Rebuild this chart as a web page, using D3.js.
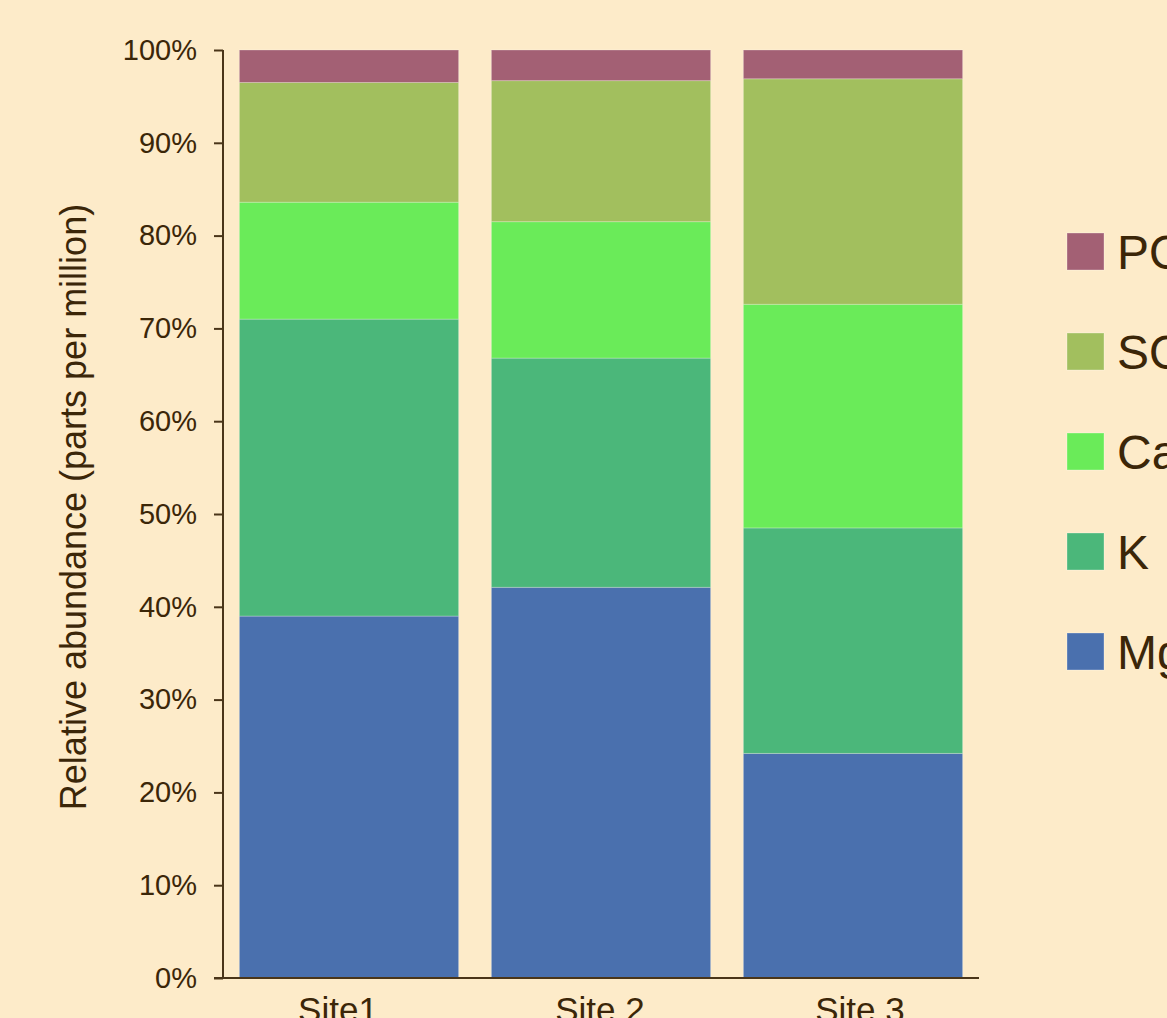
<!DOCTYPE html>
<html>
<head>
<meta charset="utf-8">
<script src="https://cdn.jsdelivr.net/npm/d3@7/dist/d3.min.js"></script>
<style>
  html, body { margin: 0; padding: 0; background: #fdebc9; overflow: hidden; }
  svg { display: block; }
  text { font-family: "Liberation Sans", Arial, sans-serif; fill: #3b2608; }
</style>
</head>
<body>
<svg id="chart" width="1167" height="1018"></svg>
<script>
// ---- data ----
const sites = ["Site1", "Site 2", "Site 3"];
const seriesKeys = ["Mg", "K", "Ca", "SO4", "PO4"];
const seriesLabels = ["Mg", "K", "Ca", "SO4", "PO4"];
const seriesColors = ["#4a70ae", "#4bb77a", "#6aeb59", "#a2bf5e", "#a36074"];
const mgValues  = [39.0, 42.1, 24.2];
const kValues   = [32.0, 24.7, 24.3];
const caValues  = [12.6, 14.7, 24.1];
const so4Values = [12.9, 15.2, 24.3];
const po4Values = [3.5, 3.3, 3.1];
const yTicks = [0, 10, 20, 30, 40, 50, 60, 70, 80, 90, 100];
const yTitle = "Relative abundance (parts per million)";

const rows = sites.map((s, i) => ({
  site: s, Mg: mgValues[i], K: kValues[i], Ca: caValues[i], SO4: so4Values[i], PO4: po4Values[i]
}));

const svg = d3.select("#chart");
const axisColor = "#4a3519";

const x = d3.scaleBand().domain(sites).range([223, 979]).paddingInner(0.13).paddingOuter(0.065);
const y = d3.scaleLinear().domain([0, 1]).range([978, 50]);

const stack = d3.stack().keys(seriesKeys).offset(d3.stackOffsetExpand);
const layers = stack(rows);
const color = d3.scaleOrdinal().domain(seriesKeys).range(seriesColors);

// bars
svg.append("g").selectAll("g").data(layers).join("g")
  .attr("fill", d => color(d.key))
  .selectAll("rect").data(d => d).join("rect")
  .attr("x", d => x(d.data.site))
  .attr("width", x.bandwidth())
  .attr("y", d => y(d[1]))
  .attr("height", d => y(d[0]) - y(d[1]))
  .attr("stroke", "rgba(255,255,255,0.25)")
  .attr("stroke-width", 1);

// y axis
const yAxis = d3.axisLeft(y).tickValues(yTicks.map(v => v / 100))
  .tickFormat(d => Math.round(d * 100) + "%").tickSize(9).tickPadding(17);
const gy = svg.append("g").attr("transform", "translate(223,0)").call(yAxis);
gy.select(".domain").attr("stroke", axisColor).attr("stroke-width", 2).attr("d", "M0,50V978");
gy.selectAll(".tick line").attr("stroke", axisColor).attr("stroke-width", 2);
gy.selectAll(".tick text").attr("font-size", 29).attr("fill", "#3b2608")
  .attr("font-family", "Liberation Sans, Arial, sans-serif");

// x axis
const labelShift = [-11, -1, 7];
const xAxis = d3.axisBottom(x).tickSize(0).tickPadding(0);
const gx = svg.append("g").attr("transform", "translate(0,978)").call(xAxis);
gx.select(".domain").attr("stroke", axisColor).attr("stroke-width", 2).attr("d", "M214,0H979");
gx.selectAll(".tick text").attr("font-size", 35).attr("fill", "#3b2608")
  .attr("font-family", "Liberation Sans, Arial, sans-serif")
  .attr("dy", null).attr("y", 44)
  .attr("x", (d, i) => labelShift[i]);

// y title
svg.append("text")
  .attr("transform", "translate(86,507) rotate(-90)")
  .attr("text-anchor", "middle")
  .attr("font-size", 36)
  .text(yTitle);

// legend
const legendOrder = seriesKeys.slice().reverse();
const legendLabelMap = Object.fromEntries(seriesKeys.map((k, i) => [k, seriesLabels[i]]));
const lg = svg.append("g").selectAll("g").data(legendOrder).join("g")
  .attr("transform", (d, i) => `translate(1067,${233 + i * 100})`);
lg.append("rect").attr("width", 37).attr("height", 37).attr("fill", d => color(d))
  .attr("stroke", "rgba(255,255,255,0.3)").attr("stroke-width", 1);
lg.append("text").attr("x", 50).attr("y", 36).attr("font-size", 48).text(d => legendLabelMap[d]);
</script>
</body>
</html>
